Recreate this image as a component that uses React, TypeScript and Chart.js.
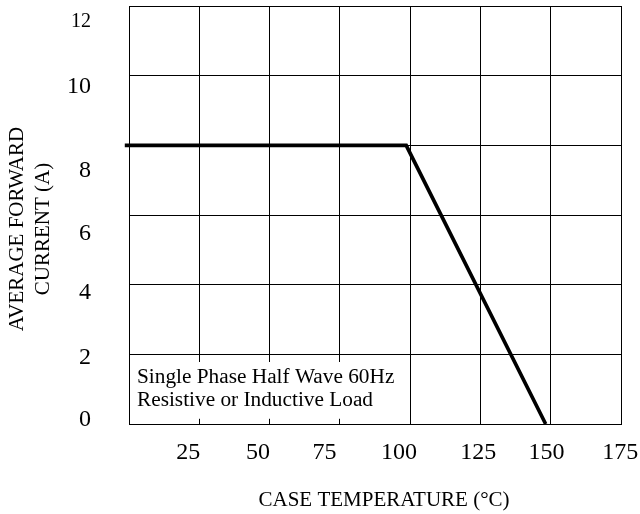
import { useEffect, useRef } from 'react';
import { Chart, registerables } from 'chart.js';

Chart.register(...registerables);

// ---- data ----
const curveTemps = [-1.5, 98.6, 148.2];
const curveCurrents = [8, 8, 0];

const xTickLabels = ['25', '50', '75', '100', '125', '150', '175'];
const xTickLabelAt = [21.1, 45.9, 69.5, 96.0, 124.2, 148.5, 174.7];
const yTickLabels = ['0', '2', '4', '6', '8', '10', '12'];
const yTickLabelAt = [0.11, 1.89, 3.76, 5.45, 7.26, 9.68, 11.54];

const noteLines = ['Single Phase Half Wave 60Hz', 'Resistive or Inductive Load'];
const xTitle = 'CASE TEMPERATURE (\u00B0C)';
const yTitle = ['AVERAGE FORWARD', 'CURRENT (A)'];

const FAMILY = "'Liberation Serif', 'Times New Roman', Times, serif";

const notePlugin = {
  id: 'noteBox',
  beforeDatasetsDraw(chart: any) {
    const { ctx } = chart;
    const x = chart.scales.x;
    const y = chart.scales.y;
    const left = x.getPixelForValue(0) + 1;
    const right = x.getPixelForValue(96.5);
    const top = y.getPixelForValue(1.78);
    const bottom = y.getPixelForValue(0.15);
    ctx.save();
    ctx.fillStyle = '#ffffff';
    ctx.fillRect(left, top, right - left, bottom - top);
    ctx.fillStyle = '#000000';
    ctx.font = `21.3px ${FAMILY}`;
    ctx.textAlign = 'left';
    ctx.textBaseline = 'alphabetic';
    const base = y.getPixelForValue(2);
    noteLines.forEach((t, i) => {
      ctx.fillText(t, left + 7, base + 29 + i * 23);
    });
    ctx.restore();
  },
};

// shift the axis-title frames (titles only; tick positions are already configured)
const titleShiftPlugin = {
  id: 'titleShift',
  afterLayout(chart: any) {
    const yl = chart.scales.yl;
    const xl = chart.scales.xl;
    yl.top += 14;
    yl.bottom += 14;
    xl.left += 9;
    xl.right += 9;
  },
};

function zeroPadding(s: any) {
  s.paddingLeft = 0;
  s.paddingRight = 0;
  s.paddingTop = 0;
  s.paddingBottom = 0;
}

export default function App() {
  const ref = useRef<HTMLCanvasElement | null>(null);

  useEffect(() => {
    if (!ref.current) return;
    const chart = new Chart(ref.current, {
      type: 'line',
      data: {
        datasets: [
          {
            data: curveTemps.map((t, i) => ({ x: t, y: curveCurrents[i] })),
            borderColor: '#000000',
            borderWidth: 3.7,
            pointRadius: 0,
            tension: 0,
            fill: false,
            clip: false as any,
            xAxisID: 'x',
            yAxisID: 'y',
          },
        ],
      },
      options: {
        animation: false,
        responsive: false,
        devicePixelRatio: 1,
        layout: { padding: { left: 0, top: 6, right: 19, bottom: 0 } },
        plugins: {
          legend: { display: false },
          tooltip: { enabled: false },
        },
        scales: {
          x: {
            type: 'linear',
            axis: 'x',
            position: 'bottom',
            weight: 0,
            min: 0,
            max: 175,
            ticks: { display: false, stepSize: 25 },
            grid: { color: '#000000', lineWidth: 1, drawTicks: false },
            border: { color: '#000000', width: 1 },
            afterFit(s: any) {
              s.height = 0;
              zeroPadding(s);
            },
          },
          xl: {
            type: 'linear',
            axis: 'x',
            position: 'bottom',
            weight: 1,
            min: 0,
            max: 175,
            grid: { display: false, drawTicks: false },
            border: { display: false },
            afterBuildTicks(s: any) {
              s.ticks = xTickLabelAt.map((v) => ({ value: v }));
            },
            ticks: {
              autoSkip: false,
              maxRotation: 0,
              minRotation: 0,
              padding: 14,
              color: '#000000',
              font: { family: FAMILY, size: 24, lineHeight: 1.2 },
              callback: (_v: any, i: number) => xTickLabels[i],
            },
            title: {
              display: true,
              text: xTitle,
              color: '#000000',
              font: { family: FAMILY, size: 21, lineHeight: 1.2 },
              padding: { top: 0, bottom: 1 },
            },
            afterFit(s: any) {
              s.height = 90;
              zeroPadding(s);
            },
          },
          y: {
            type: 'linear',
            axis: 'y',
            position: 'left',
            weight: 0,
            min: 0,
            max: 12,
            ticks: { display: false, stepSize: 2 },
            grid: { color: '#000000', lineWidth: 1, drawTicks: false },
            border: { color: '#000000', width: 1 },
            afterFit(s: any) {
              s.width = 0;
              zeroPadding(s);
            },
          },
          yl: {
            type: 'linear',
            axis: 'y',
            position: 'left',
            weight: 1,
            min: 0,
            max: 12,
            grid: { display: false, drawTicks: false },
            border: { display: false },
            afterBuildTicks(s: any) {
              s.ticks = yTickLabelAt.map((v) => ({ value: v }));
            },
            ticks: {
              autoSkip: false,
              padding: 38,
              color: '#000000',
              font: (c: any) => ({
                family: FAMILY,
                size: c.index === 6 ? 20 : 24,
                lineHeight: 1.2,
              }),
              callback: (_v: any, i: number) => yTickLabels[i],
            },
            title: {
              display: true,
              text: yTitle,
              color: '#000000',
              font: { family: FAMILY, size: 21, lineHeight: 26 / 21 },
              padding: { top: 4, bottom: 0 },
            },
            afterFit(s: any) {
              s.width = 129;
              zeroPadding(s);
            },
          },
        } as any,
      },
      plugins: [notePlugin, titleShiftPlugin],
    });
    return () => chart.destroy();
  }, []);

  return (
    <div style={{ position: 'absolute', left: 0, top: 0, width: 640, height: 514, background: '#ffffff' }}>
      <canvas ref={ref} width={640} height={514} />
    </div>
  );
}
